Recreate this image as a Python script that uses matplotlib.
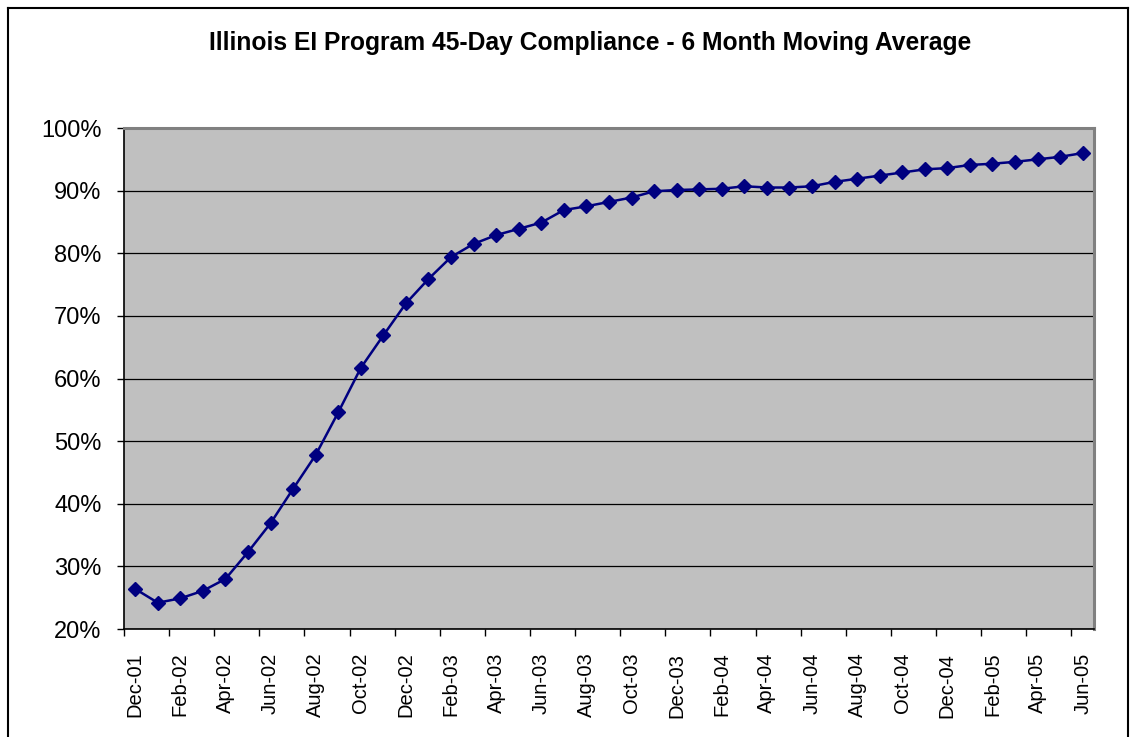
import matplotlib
matplotlib.use("Agg")
import matplotlib.pyplot as plt
from matplotlib.lines import Line2D
from matplotlib.ticker import FixedLocator, PercentFormatter

plt.rcParams['font.family'] = ['Liberation Sans', 'DejaVu Sans']

# months Dec-01 .. Jun-05
months = ['Dec-01', 'Jan-02', 'Feb-02', 'Mar-02', 'Apr-02', 'May-02', 'Jun-02',
          'Jul-02', 'Aug-02', 'Sep-02', 'Oct-02', 'Nov-02', 'Dec-02',
          'Jan-03', 'Feb-03', 'Mar-03', 'Apr-03', 'May-03', 'Jun-03',
          'Jul-03', 'Aug-03', 'Sep-03', 'Oct-03', 'Nov-03', 'Dec-03',
          'Jan-04', 'Feb-04', 'Mar-04', 'Apr-04', 'May-04', 'Jun-04',
          'Jul-04', 'Aug-04', 'Sep-04', 'Oct-04', 'Nov-04', 'Dec-04',
          'Jan-05', 'Feb-05', 'Mar-05', 'Apr-05', 'May-05', 'Jun-05']

compliance = [26.4, 24.2, 24.9, 26.1, 28.0, 32.3, 36.9,
              42.4, 47.8, 54.6, 61.7, 66.9, 72.0,
              75.9, 79.4, 81.5, 82.9, 83.9, 84.9,
              86.9, 87.5, 88.2, 88.9, 89.9, 90.1,
              90.2, 90.3, 90.7, 90.5, 90.5, 90.7,
              91.4, 91.9, 92.4, 92.9, 93.4, 93.6,
              94.1, 94.3, 94.6, 95.0, 95.4, 96.0]

fig = plt.figure(figsize=(11.3, 7.37), dpi=100)
fig.patch.set_facecolor('white')

# chart area border (Excel style)
for xs, ys in [([0.007, 0.007], [0.0, 0.989]),
               ([0.007, 0.998], [0.989, 0.989]),
               ([0.998, 0.998], [0.0, 0.989])]:
    fig.add_artist(Line2D(xs, ys, transform=fig.transFigure, color='black', lw=1.5))

ax = fig.add_axes([0.1097, 0.1465, 0.8584, 0.6798])
ax.set_facecolor('#C0C0C0')

x = list(range(len(months)))
ax.plot(x, compliance, color='#000080', lw=1.8, marker='D', markersize=7.5,
        markerfacecolor='#000080', markeredgecolor='#000080', zorder=3)

ax.set_xlim(-0.5, len(months) - 0.5)
ax.set_ylim(20, 100)
ax.yaxis.set_major_locator(FixedLocator(range(20, 101, 10)))
ax.yaxis.set_major_formatter(PercentFormatter(decimals=0))
ax.grid(axis='y', color='black', lw=0.9)
ax.set_axisbelow(True)

ax.set_xticks(x[::2])
ax.set_xticklabels(months[::2], rotation=90)
ax.xaxis.set_minor_locator(FixedLocator([i - 0.5 for i in range(0, len(months) + 1, 2)]))
ax.tick_params(axis='x', which='major', length=0, pad=17, labelsize=14.5)
ax.tick_params(axis='x', which='minor', length=5, width=1, color='black', direction='out')
ax.tick_params(axis='y', length=5, width=1, labelsize=17, pad=11)

for side in ['top', 'right']:
    ax.spines[side].set_color('#808080')
    ax.spines[side].set_linewidth(2.2)
for side in ['left', 'bottom']:
    ax.spines[side].set_color('black')
    ax.spines[side].set_linewidth(1.2)

fig.text(0.522, 0.941, 'Illinois EI Program 45-Day Compliance - 6 Month Moving Average',
         ha='center', va='center', fontsize=17.7, fontweight='bold')

fig.savefig('out.png', dpi=100, facecolor='white')
